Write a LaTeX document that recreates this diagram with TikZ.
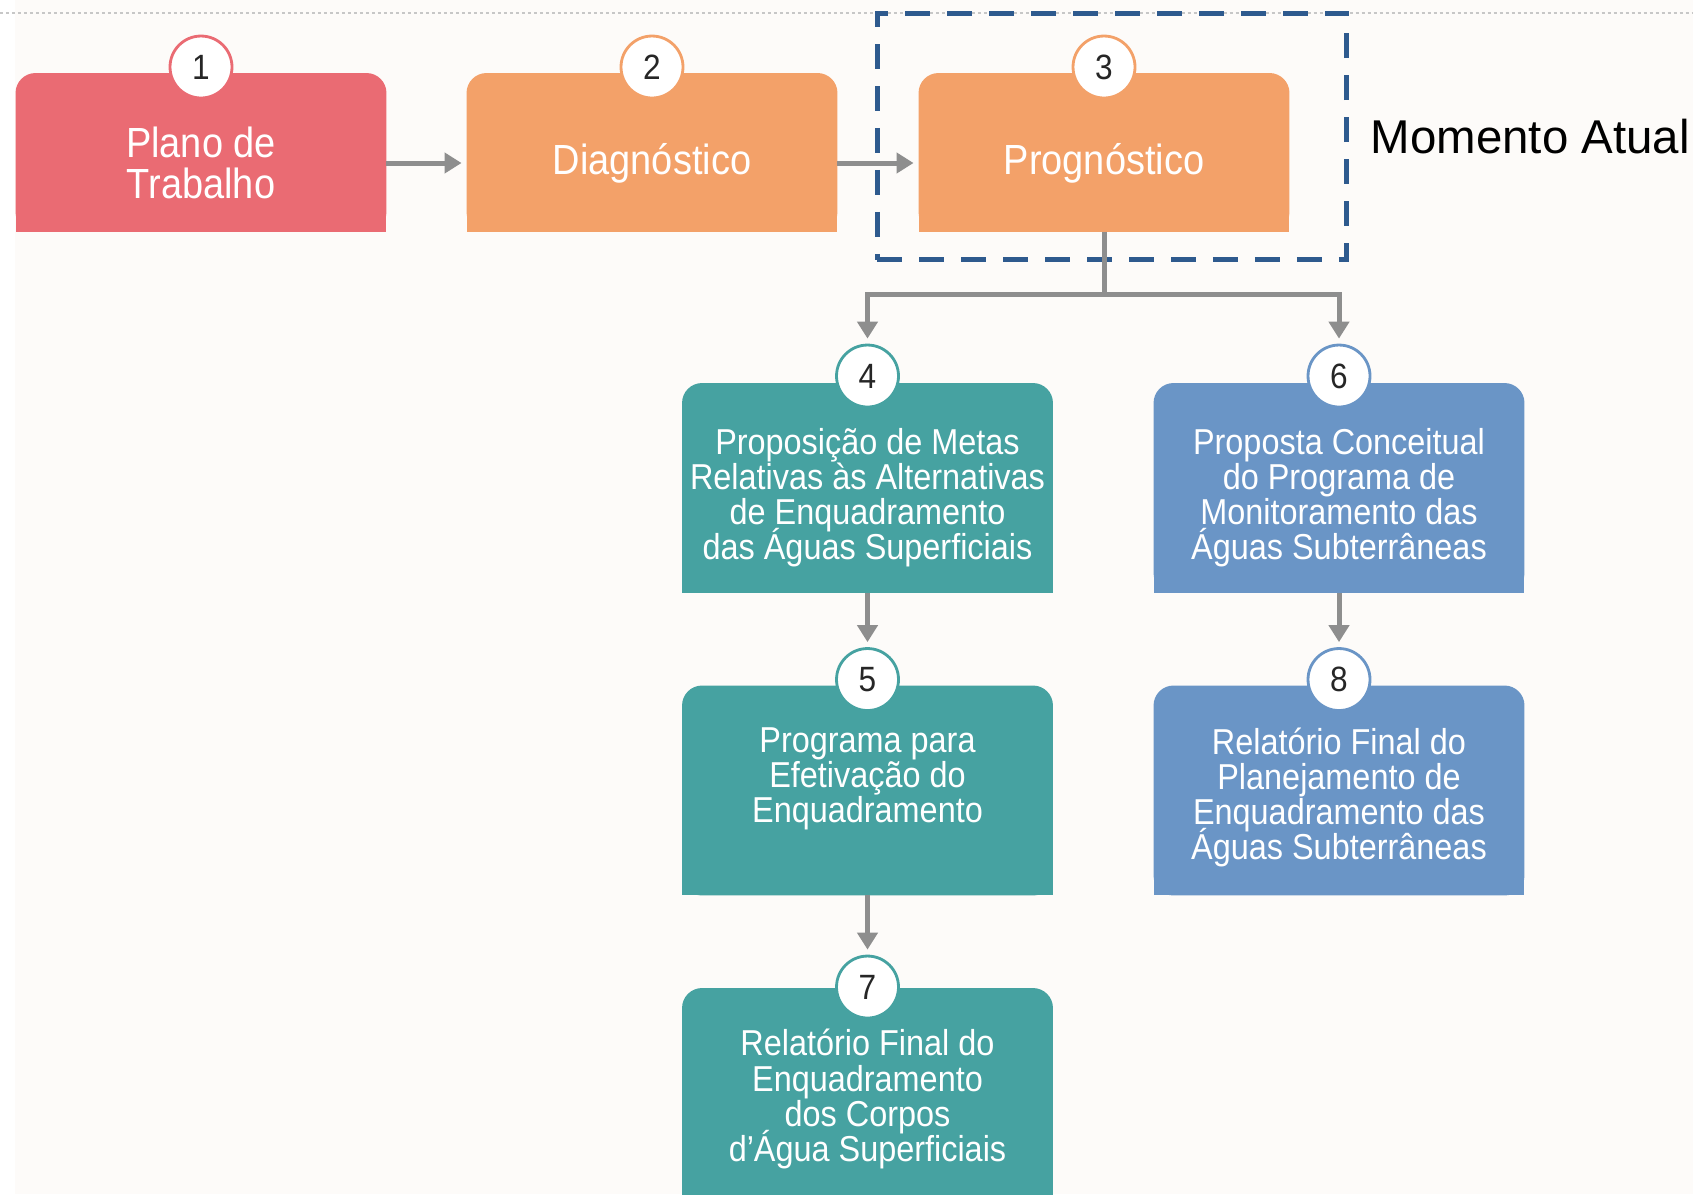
\documentclass[tikz,border=0pt]{standalone}
\usepackage{fontspec}
\setmainfont{Liberation Sans}
\newfontfamily\boxfont[FakeStretch=0.9]{Liberation Sans}
\usetikzlibrary{arrows.meta,positioning}
\definecolor{cRed}{HTML}{EA6B73}
\definecolor{cOrange}{HTML}{F3A169}
\definecolor{cTeal}{HTML}{46A2A1}
\definecolor{cBlue}{HTML}{6A95C6}
\definecolor{cArrow}{HTML}{8E8E8E}
\definecolor{cDash}{HTML}{2E5A8E}
\definecolor{cPaper}{HTML}{FDFBF9}
\begin{document}
\begin{tikzpicture}[x=0.02cm,y=-0.02cm,box/.style={shape=rectangle,rounded corners=0.4cm,minimum width=7.42cm,minimum height=4.2cm,inner sep=0pt,outer sep=0pt},boxR/.style={box,fill=cRed,minimum height=3.18cm},boxO/.style={box,fill=cOrange,minimum height=3.18cm},boxT/.style={box,fill=cTeal},boxB/.style={box,fill=cBlue},num/.style={shape=circle,fill=white,draw=#1,line width=1.6pt,minimum size=1.24cm,inner sep=0pt,text=black!85,font=\boxfont\fontsize{20}{20}\selectfont},txt/.style={text=white,align=center,inner sep=0pt,font={\boxfont\fontsize{20.5}{20}\selectfont\lineskiplimit-20pt\relax}},txtA/.style={txt,font={\boxfont\fontsize{24}{23.3}\selectfont\lineskiplimit-20pt\relax}},arr/.style={draw=cArrow,line width=0.1cm,-{Triangle[width=0.4cm,length=0.34cm]},shorten >=0.1cm},line/.style={draw=cArrow,line width=0.1cm},frame/.style={draw=cDash,line width=0.1cm,dash pattern=on 0.5cm off 0.34cm,minimum width=9.4cm,minimum height=4.94cm,inner sep=0pt}]
\def\xa{201};
\def\xb{652};
\def\xc{1104};
\def\xl{867.5};
\def\xr{1339};
\def\ya{152.5};
\def\yb{488};
\def\dy{302.5};

\useasboundingbox (0,0) rectangle (1693,1194);
\clip (0,0) rectangle (1693,1194);
\fill[white] (0,0) rectangle (1693,1194);
\fill[cPaper] (15,0) rectangle (1693,1194);
\draw[black!22,line width=0.04cm,dash pattern=on 0.06cm off 0.06cm] (0,13) -- (1693,13);

\node[boxR] (b1) at (\xa,\ya) {};
\fill[cRed] (b1.west) rectangle (b1.south east);
\node[txtA] (t1) at ([yshift=-0.21cm]b1.center) {Plano de\\Trabalho};
\node[num=cRed] (n1) at ([yshift=0.12cm]b1.north) {1};

\node[boxO] (b2) at (\xb,\ya) {};
\fill[cOrange] (b2.west) rectangle (b2.south east);
\node[txtA] (t2) at ([yshift=-0.21cm]b2.center) {Diagnóstico};
\node[num=cOrange] (n2) at ([yshift=0.12cm]b2.north) {2};
\draw[arr] ([yshift=-0.21cm]b1.east) -- ([yshift=-0.21cm]b2.west);

\node[boxO] (b3) at (\xc,\ya) {};
\fill[cOrange] (b3.west) rectangle (b3.south east);
\node[txtA] (t3) at ([yshift=-0.21cm]b3.center) {Prognóstico};
\node[num=cOrange] (n3) at ([yshift=0.12cm]b3.north) {3};
\draw[arr] ([yshift=-0.21cm]b2.east) -- ([yshift=-0.21cm]b3.west);

\node[frame] (cur) at (1112,136.5) {};
\node[inner sep=0pt,font=\fontsize{27}{30}\selectfont,right=0.42cm of cur] (now) {Momento Atual};

\node[boxT] (b4) at (\xl,\yb) {};
\fill[cTeal] (b4.west) rectangle (b4.south east);
\node[txt,below=0.9cm of b4.north] (t4) {Proposição de Metas\\Relativas às Alternativas\\de Enquadramento\\das Águas Superficiais};
\node[num=cTeal] (n4) at ([yshift=0.14cm]b4.north) {4};

\node[boxB] (b6) at (\xr,\yb) {};
\fill[cBlue] (b6.west) rectangle (b6.south east);
\node[txt,below=0.9cm of b6.north] (t6) {Proposta Conceitual\\do Programa de\\Monitoramento das\\Águas Subterrâneas};
\node[num=cBlue] (n6) at ([yshift=0.14cm]b6.north) {6};

\coordinate (fork) at ([yshift=-1.26cm]b3.south);
\draw[line] (b3.south) -- (fork);
\draw[arr] (fork) -| (n4.north);
\draw[arr] (fork) -| (n6.north);

\node[boxT] (b5) at (\xl,\yb+\dy) {};
\fill[cTeal] (b5.west) rectangle (b5.south east);
\node[txt,below=0.84cm of b5.north] (t5) {Programa para\\Efetivação do\\Enquadramento};
\node[num=cTeal] (n5) at ([yshift=0.12cm]b5.north) {5};
\draw[arr] (b4.south) -- (n5.north);

\node[boxB] (b8) at (\xr,\yb+\dy) {};
\fill[cBlue] (b8.west) rectangle (b8.south east);
\node[txt,below=0.84cm of b8.north] (t8) {Relatório Final do\\Planejamento de\\Enquadramento das\\Águas Subterrâneas};
\node[num=cBlue] (n8) at ([yshift=0.12cm]b8.north) {8};
\draw[arr] (b6.south) -- (n8.north);

\node[boxT] (b7) at (\xl,\yb+2*\dy) {};
\fill[cTeal] (b7.west) rectangle (b7.south east);
\node[txt,below=0.82cm of b7.north] (t7) {Relatório Final do\\Enquadramento\\dos Corpos\\d’Água Superficiais};
\node[num=cTeal] (n7) at ([yshift=0.02cm]b7.north) {7};
\draw[arr] (b5.south) -- (n7.north);
\end{tikzpicture}
\end{document}
